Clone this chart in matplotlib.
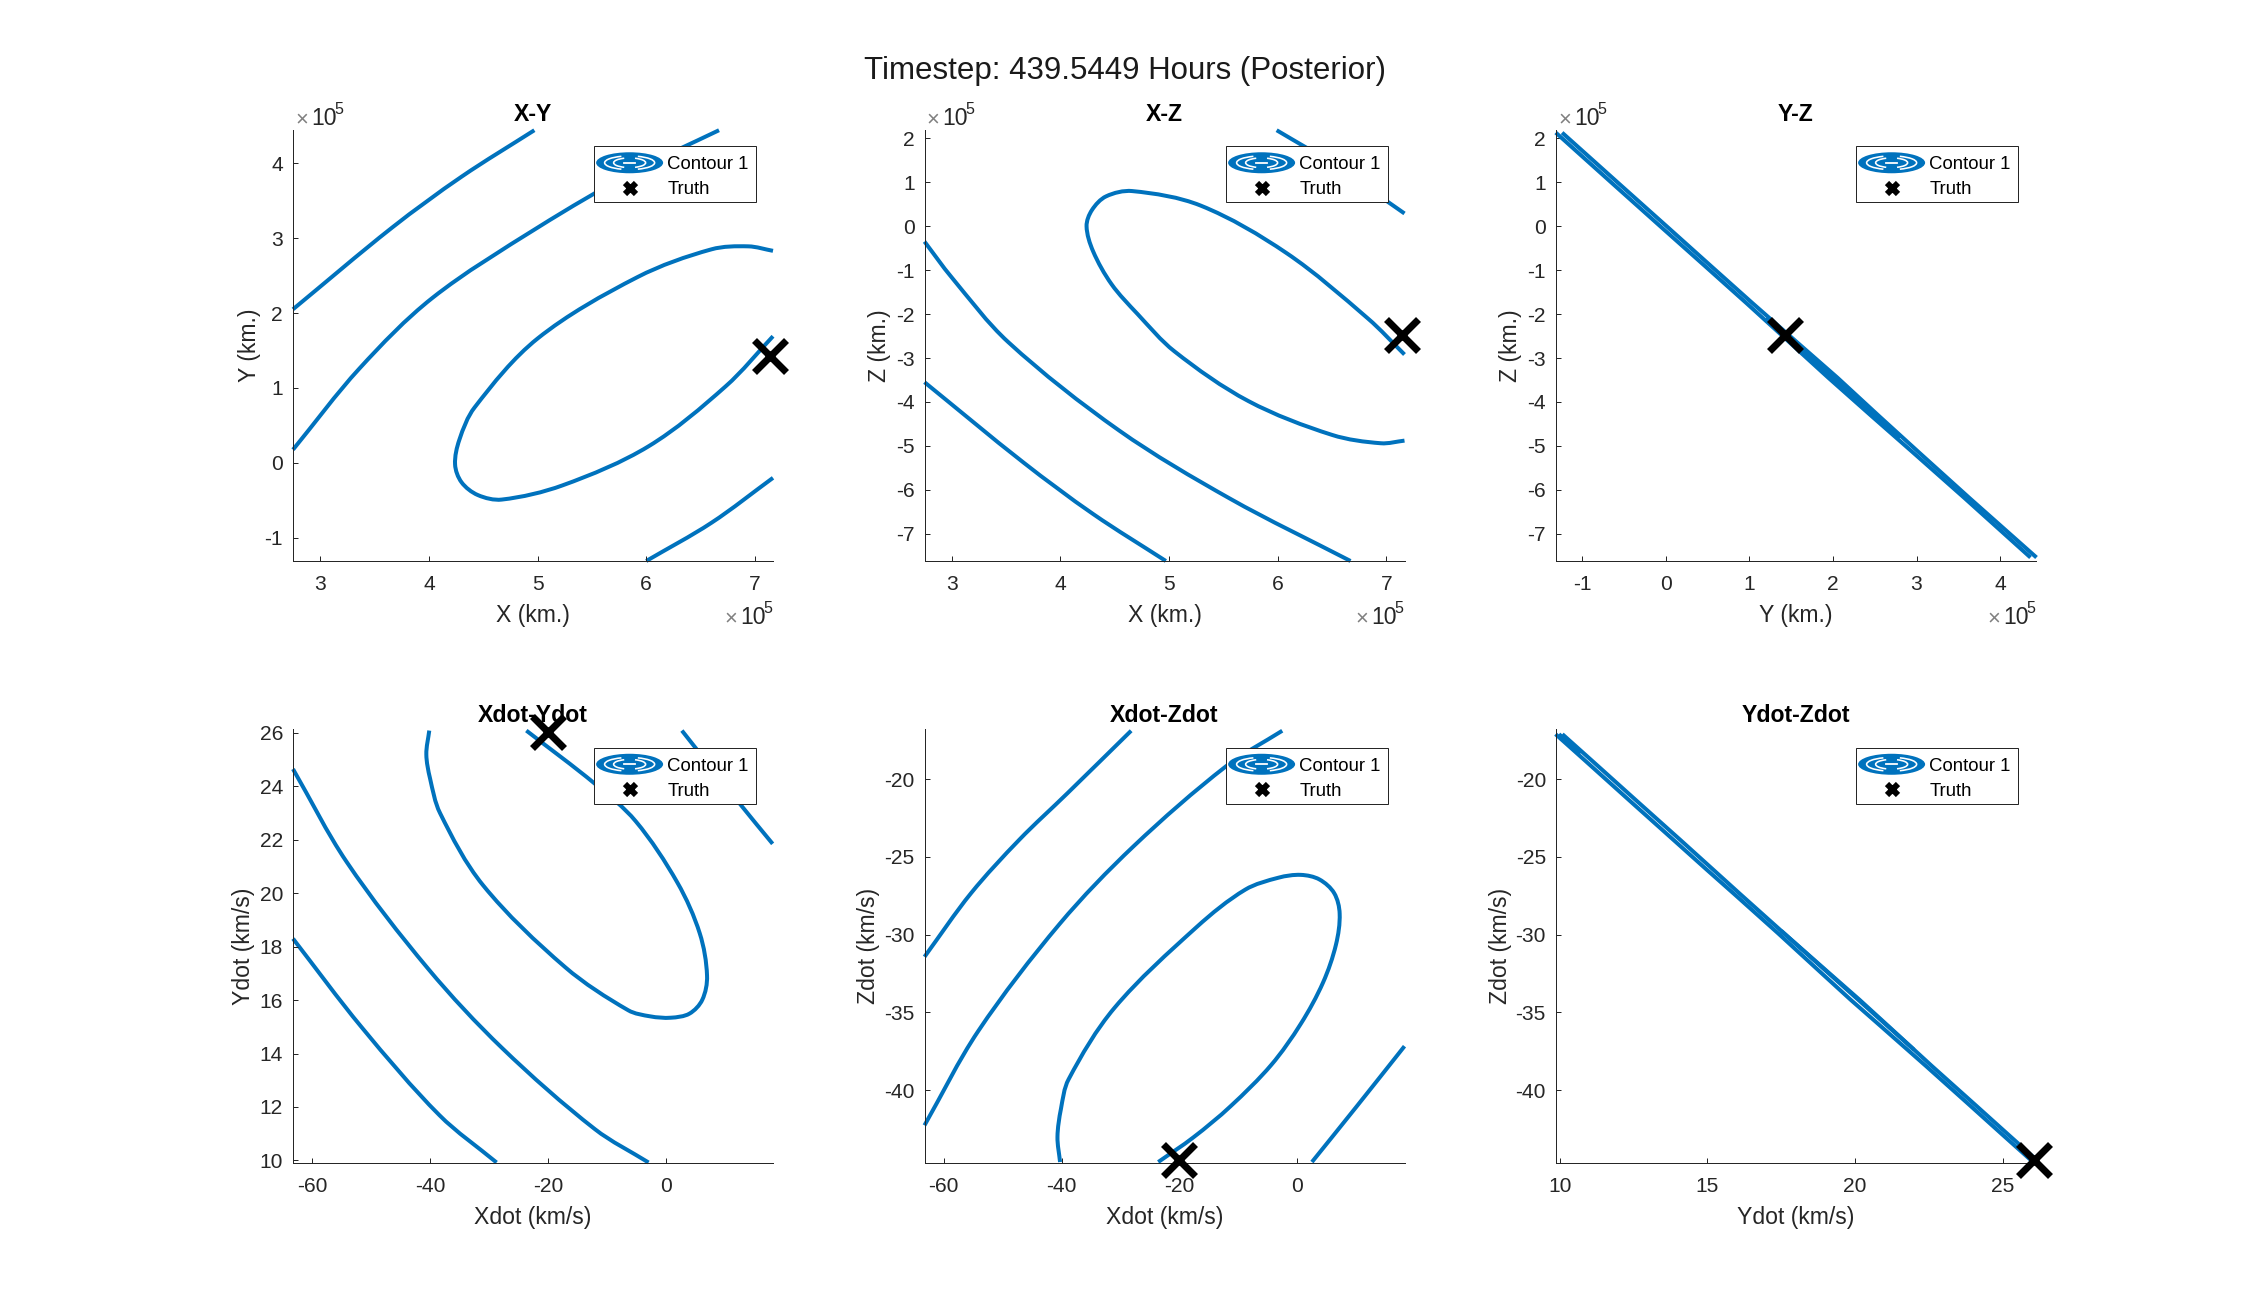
import matplotlib
matplotlib.use('Agg')
import matplotlib.pyplot as plt
import numpy as np
from matplotlib.legend_handler import HandlerBase
from matplotlib.lines import Line2D
from matplotlib.patches import Arc, Ellipse, PathPatch, Rectangle
from matplotlib.path import Path

plt.rcParams['font.family'] = ['Liberation Sans', 'DejaVu Sans']
plt.rcParams['axes.unicode_minus'] = False

BLUE = '#0072BD'
DARK = '#262626'
W, H = 2250, 1302

# X-Y (x 1e5 km)
xy_x_a = [2.748, 3.66, 4.3, 4.97]
xy_y_a = [2.05, 3.14, 3.82, 4.44]
xy_x_b = [2.748, 3.36, 4.03, 5.0, 5.9, 6.67]
xy_y_b = [0.176, 1.26, 2.20, 3.14, 3.90, 4.44]
xy_x_c = [7.167, 6.73, 6.02, 5.23, 4.67, 4.45, 4.30, 4.24, 4.28, 4.42, 5.0, 5.92, 6.6, 6.94, 7.167]
xy_y_c = [1.69, 1.02, 0.22, -0.30, -0.49, -0.43, -0.26, -0.02, 0.31, 0.74, 1.66, 2.48, 2.85, 2.89, 2.83]
xy_x_d = [6.0, 6.6, 7.167]
xy_y_d = [-1.31, -0.80, -0.2]

# X-Z
xz_x_a = [5.99, 6.5, 7.167]
xz_z_a = [2.185, 1.43, 0.29]
xz_x_c = [7.167, 6.95, 6.5, 5.73, 5.05, 4.71, 4.47, 4.30, 4.24, 4.29, 4.42, 4.66, 5.29, 6.08, 6.83, 7.167]
xz_z_c = [-4.88, -4.94, -4.75, -3.98, -2.85, -2.0, -1.32, -0.57, 0.0, 0.37, 0.68, 0.80, 0.47, -0.61, -2.10, -2.92]
xz_x_b = [2.748, 3.0, 3.52, 4.54, 5.56, 6.67]
xz_z_b = [-0.35, -1.17, -2.64, -4.65, -6.2, -7.62]
xz_x_d = [2.748, 3.66, 4.3, 4.97]
xz_z_d = [-3.55, -5.38, -6.55, -7.62]

# Y-Z, lines nearly on top of each other
yz_y_a = [-1.242, -0.562, 0.038, 0.536, 1.036, 1.545, 2.055, 2.545, 3.036, 3.63, 4.436]
yz_y_b = [-1.318, -0.638, -0.038, 0.464, 0.964, 1.455, 1.945, 2.455, 2.964, 3.57, 4.364]
yz_z = [2.13, 0.97, -0.05, -0.90, -1.75, -2.60, -3.45, -4.31, -5.16, -6.18, -7.54]
yz_y_m = [1.2, 2.0, 2.8]
yz_z_m = [-2.09, -3.45, -4.82]

# Xdot-Ydot
vxy_x_a = [2.77, 12.83, 18.18]
vxy_y_a = [26.09, 23.29, 21.85]
vxy_x_c = [-40.13, -40.63, -40.0, -38.3, -31.0, -17.04, -6.35, -2.58, 0.88, 4.03, 6.23, 7.04, 5.8, 2.0, -5.09, -12.01, -23.65]
vxy_y_c = [26.09, 25.2, 24.3, 23.0, 20.3, 17.23, 15.62, 15.39, 15.34, 15.49, 16.01, 16.91, 18.5, 20.4, 22.7, 24.1, 26.09]
vxy_x_b = [-63.27, -54.15, -40.31, -27.74, -12.01, -2.89]
vxy_y_b = [24.65, 21.17, 17.17, 14.2, 11.17, 9.92]
vxy_x_d = [-63.27, -51.6, -38.4, -28.7]
vxy_y_d = [18.3, 14.98, 11.69, 9.92]

# Xdot-Zdot
vxz_x_a = [-63.27, -55.35, -47.17, -39.0, -28.18]
vxz_z_a = [-31.42, -27.32, -23.89, -20.9, -16.88]
vxz_x_b = [-63.27, -54.15, -40.31, -27.74, -12.01, -2.52]
vxz_z_b = [-42.26, -36.2, -29.3, -24.3, -19.15, -16.88]
vxz_x_c = [-40.25, -40.69, -40.1, -38.8, -31.0, -17.04, -8.8, -3.14, 0.63, 3.77, 6.29, 7.23, 6.6, 4.4, 0.63, -4.4, -11.32, -17.6, -23.58]
vxz_z_c = [-44.62, -43.0, -41.2, -39.3, -34.7, -29.5, -27.1, -26.33, -26.15, -26.44, -27.32, -28.65, -30.64, -33.08, -35.73, -38.38, -41.04, -43.03, -44.62]
vxz_x_d = [2.52, 10.0, 18.24]
vxz_z_d = [-44.62, -41.1, -37.17]

# Ydot-Zdot
vyz_y_a = [10.085, 11.115, 12.615, 14.115, 15.21, 16.10, 17.60, 19.13, 20.15, 21.13, 22.60, 24.10, 25.10, 26.14]
vyz_y_b = [9.855, 10.885, 12.385, 13.885, 14.99, 15.90, 17.40, 18.87, 19.85, 20.87, 22.40, 23.90, 24.90, 25.94]
vyz_z = [-17.1, -18.85, -21.41, -23.96, -25.84, -27.37, -29.92, -32.48, -34.18, -35.88, -38.44, -40.99, -42.70, -44.47]
vyz_y_tip = [9.97, 10.7]
vyz_z_tip = [-17.1, -18.34]
vyz_y_m = [17.5, 22.0]
vyz_z_m = [-29.75, -37.4]

truth_x = 7.14
truth_y = 1.42
truth_z = -2.47
truth_vx = -20.0
truth_vy = 26.05
truth_vz = -44.47

xticks_pos = [3, 4, 5, 6, 7]
yticks_pos = [-1, 0, 1, 2, 3, 4]
zticks_pos = [-7, -6, -5, -4, -3, -2, -1, 0, 1, 2]
xticks_vel = [-60, -40, -20, 0]
yticks_vel = [10, 12, 14, 16, 18, 20, 22, 24, 26]
zticks_vel = [-40, -35, -30, -25, -20]
vyticks = [10, 15, 20, 25]

xlim_pos = (2.748, 7.167)
ylim_pos = (-1.31, 4.443)
zlim_pos = (-7.62, 2.19)
xlim_vel = (-63.27, 18.24)
ylim_vel = (9.92, 26.13)
zlim_vel = (-44.65, -16.8)


class ContourIcon:
    pass


class HandlerContour(HandlerBase):
    # the little contour glyph MATLAB puts in legends
    def create_artists(self, legend, orig_handle, xdescent, ydescent, width, height, fontsize, trans):
        cx = width / 2 - xdescent
        cy = height / 2 - ydescent
        out = [Ellipse((cx, cy), 33.5, 10.5, fc=BLUE, ec='none', transform=trans)]
        for rx, ry, a in [(12.5, 3.4, 38), (8.0, 2.4, 40)]:
            out.append(Arc((cx, cy), 2 * rx, 2 * ry, theta1=180 - a, theta2=180 + a, color='white', lw=0.8, transform=trans))
            out.append(Arc((cx, cy), 2 * rx, 2 * ry, theta1=-a, theta2=a, color='white', lw=0.8, transform=trans))
        out.append(Line2D([cx - 2.6, cx + 2.6], [cy, cy], color='white', lw=0.9, transform=trans))
        return out


def make_axes(left, top, height):
    return fig.add_axes([left / W, 1 - (top + height) / H, 480 / W, height / H])


def style(ax, xlabel, ylabel, title, xticks, yticks, xlim, ylim, ylabel_x, title_pad=4.5):
    ax.set_xlim(xlim)
    ax.set_ylim(ylim)
    ax.set_xticks(xticks)
    ax.set_yticks(yticks)
    ax.spines['top'].set_visible(False)
    ax.spines['right'].set_visible(False)
    ax.spines['left'].set_color(DARK)
    ax.spines['bottom'].set_color(DARK)
    ax.spines['left'].set_linewidth(0.5)
    ax.spines['bottom'].set_linewidth(0.5)
    ax.tick_params(direction='in', length=2.4, width=0.5, color=DARK, labelcolor=DARK, labelsize=10.5)
    ax.tick_params(axis='x', pad=7)
    ax.tick_params(axis='y', pad=5)
    ax.set_xlabel(xlabel, fontsize=11.5, color=DARK)
    ax.set_ylabel(ylabel, fontsize=11.5, color=DARK)
    ax.xaxis.set_label_coords(0.5, -0.1)
    ax.yaxis.set_label_coords(ylabel_x, 0.5)
    ax.set_title(title, fontsize=11.5, fontweight='bold', color='black', pad=title_pad)


def exponent_at(x, y):
    fig.text((x + 2) / W, 1 - y / H, '\u00d7', fontsize=11, color='#808080', va='baseline')
    fig.text((x + 18) / W, 1 - y / H, '10', fontsize=11.5, color=DARK, va='baseline')
    fig.text((x + 41) / W, 1 - (y - 11) / H, '5', fontsize=8, color=DARK, va='baseline')


def exponents(left, top, bottom):
    exponent_at(left, top - 5)
    exponent_at(left + 480 - 51, bottom + 63)


def add_legend(ax, left, top):
    # frame drawn by hand so the box size is exact
    ax.add_patch(Rectangle((left / W, 1 - (top + 56) / H), 162 / W, 56 / H, transform=fig.transFigure,
                           fc='white', ec=DARK, lw=0.5, clip_on=False, zorder=4.9))
    handles = [ContourIcon(), Line2D([], [], ls='none', marker='x', ms=5.5, mew=3, color='black')]
    leg = ax.legend(handles, ['Contour 1', 'Truth'], handler_map={ContourIcon: HandlerContour()},
                    loc='upper left', bbox_to_anchor=(left / W, 1 - (top + 3) / H), bbox_transform=fig.transFigure,
                    borderaxespad=0, borderpad=0.39, handlelength=3.05, handletextpad=0.5, labelspacing=0.42,
                    fontsize=9.3, frameon=False)
    for t in leg.get_texts():
        t.set_color('black')


def curve(ax, xs, ys):
    # draw through the read points with bezier segments so they dont look faceted
    x0, x1 = ax.get_xlim()
    y0, y1 = ax.get_ylim()
    sx, sy = x1 - x0, y1 - y0
    p = np.column_stack([np.array(xs) / sx, np.array(ys) / sy])
    d = np.hypot(*(p[1:] - p[:-1]).T)
    verts = [p[0]]
    for i in range(len(d)):
        prev_pt = p[i - 1] if i > 0 else p[i]
        next_pt = p[i + 2] if i + 2 < len(p) else p[i + 1]
        t0 = (p[i + 1] - prev_pt) / (d[i] + (d[i - 1] if i > 0 else 0))
        t1 = (next_pt - p[i]) / (d[i] + (d[i + 1] if i + 1 < len(d) else 0))
        verts += [p[i] + t0 * d[i] / 3, p[i + 1] - t1 * d[i] / 3, p[i + 1]]
    verts = np.array(verts) * [sx, sy]
    codes = [Path.MOVETO] + [Path.CURVE4] * (len(verts) - 1)
    ax.add_patch(PathPatch(Path(verts, codes), fc='none', ec=BLUE, lw=2, capstyle='butt', joinstyle='round', clip_on=False))


def band(ax, xs, ys):
    ax.plot(xs, ys, color=BLUE, lw=2, solid_capstyle='butt', clip_on=False)


def truth(ax, x, y):
    ax.plot([x], [y], ls='none', marker='x', ms=16, mew=3.5, color='black', clip_on=False, zorder=6)


fig = plt.figure(figsize=(W / 144, H / 144), dpi=144, facecolor='white')
fig.text(0.5, 1 - 71 / H, 'Timestep: 439.5449 Hours (Posterior)', fontsize=15.6, color='#1a1a1a', ha='center', va='center')

lefts = [293, 924.5, 1556]
top1, h1 = 130, 431
top2, h2 = 729.5, 433
leg_lefts = [594, 1226, 1856]
leg_top1, leg_top2 = 146, 747.5

ax1 = make_axes(lefts[0], top1, h1)
style(ax1, 'X (km.)', 'Y (km.)', 'X-Y', xticks_pos, yticks_pos, xlim_pos, ylim_pos, -0.067)
curve(ax1, xy_x_a, xy_y_a)
curve(ax1, xy_x_b, xy_y_b)
curve(ax1, xy_x_c, xy_y_c)
curve(ax1, xy_x_d, xy_y_d)
truth(ax1, truth_x, truth_y)
exponents(lefts[0], top1, top1 + h1)
add_legend(ax1, leg_lefts[0], leg_top1)

ax2 = make_axes(lefts[1], top1, h1)
style(ax2, 'X (km.)', 'Z (km.)', 'X-Z', xticks_pos, zticks_pos, xlim_pos, zlim_pos, -0.07)
curve(ax2, xz_x_a, xz_z_a)
curve(ax2, xz_x_b, xz_z_b)
curve(ax2, xz_x_c, xz_z_c)
curve(ax2, xz_x_d, xz_z_d)
truth(ax2, truth_x, truth_z)
exponents(lefts[1], top1, top1 + h1)
add_legend(ax2, leg_lefts[1], leg_top1)

ax3 = make_axes(lefts[2], top1, h1)
style(ax3, 'Y (km.)', 'Z (km.)', 'Y-Z', yticks_pos, zticks_pos, (-1.315, 4.43), zlim_pos, -0.07)
band(ax3, yz_y_a, yz_z)
band(ax3, yz_y_b, yz_z)
band(ax3, yz_y_m, yz_z_m)
truth(ax3, truth_y, truth_z)
exponents(lefts[2], top1, top1 + h1)
add_legend(ax3, leg_lefts[2], leg_top1)

ax4 = make_axes(lefts[0], top2, h2)
style(ax4, 'Xdot (km/s)', 'Ydot (km/s)', 'Xdot-Ydot', xticks_vel, yticks_vel, xlim_vel, ylim_vel, -0.08, title_pad=4)
curve(ax4, vxy_x_a, vxy_y_a)
curve(ax4, vxy_x_b, vxy_y_b)
curve(ax4, vxy_x_c, vxy_y_c)
curve(ax4, vxy_x_d, vxy_y_d)
truth(ax4, truth_vx, truth_vy)
add_legend(ax4, leg_lefts[0], leg_top2)

ax5 = make_axes(lefts[1], top2, h2)
style(ax5, 'Xdot (km/s)', 'Zdot (km/s)', 'Xdot-Zdot', xticks_vel, zticks_vel, xlim_vel, zlim_vel, -0.093, title_pad=4)
curve(ax5, vxz_x_a, vxz_z_a)
curve(ax5, vxz_x_b, vxz_z_b)
curve(ax5, vxz_x_c, vxz_z_c)
curve(ax5, vxz_x_d, vxz_z_d)
truth(ax5, truth_vx, truth_vz)
add_legend(ax5, leg_lefts[1], leg_top2)

ax6 = make_axes(lefts[2], top2, h2)
style(ax6, 'Ydot (km/s)', 'Zdot (km/s)', 'Ydot-Zdot', vyticks, zticks_vel, (9.87, 26.13), zlim_vel, -0.091, title_pad=4)
band(ax6, vyz_y_a, vyz_z)
band(ax6, vyz_y_b, vyz_z)
band(ax6, vyz_y_tip, vyz_z_tip)
band(ax6, vyz_y_m, vyz_z_m)
truth(ax6, truth_vy, truth_vz)
add_legend(ax6, leg_lefts[2], leg_top2)

fig.savefig('out.png', dpi=144)
